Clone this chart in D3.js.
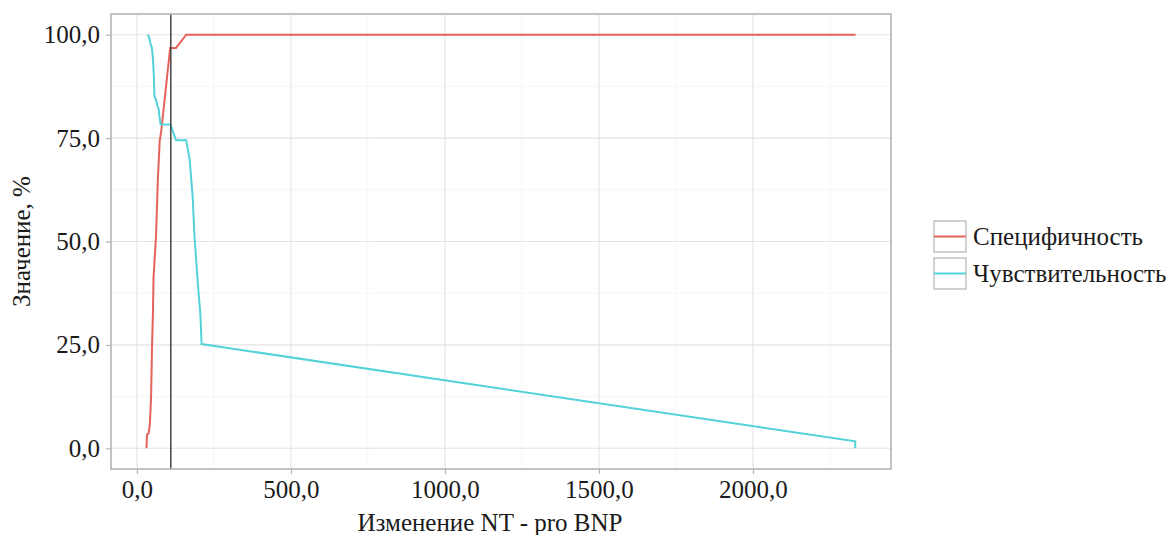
<!DOCTYPE html>
<html>
<head>
<meta charset="utf-8">
<script src="https://cdn.jsdelivr.net/npm/d3@7"></script>
<style>
  html, body { margin: 0; padding: 0; background: #fff; }
  svg { display: block; }
  text { font-family: "Liberation Serif", "DejaVu Serif", serif; fill: #1a1a1a; }
</style>
</head>
<body>
<svg id="chart" width="1168" height="535"></svg>
<script>
// Cut-off values of NT-proBNP change and the resulting specificity (%)
const specCutoff = [31, 33, 38, 42, 46, 49, 52, 54, 55, 62, 68, 74, 79, 108, 127, 160, 2333];
const specValue  = [0, 3.4, 3.6, 5.8, 12.3, 24.3, 32.3, 41.5, 42.5, 51.2, 64.8, 74.3, 76.7, 96.8, 96.8, 100, 100];

// Cut-off values and the resulting sensitivity (%)
const sensCutoff = [35.6, 41, 44, 49, 52, 55, 57, 62, 66, 71, 73, 77, 109, 115, 127, 160, 171, 174, 181, 187, 197, 206, 210, 2332, 2332];
const sensValue  = [100, 99, 97.8, 96.7, 94.2, 90, 85, 84.3, 83, 81.9, 80.3, 78.3, 78.3, 77, 74.5, 74.5, 70, 67.2, 60.8, 51.2, 40.7, 32.3, 25.2, 1.7, 0];

// Optimal cut-off marked with a vertical line
const optimalCutoff = 110;

const seriesNames = ["Специфичность", "Чувствительность"];
const seriesColors = ["#e6625a", "#52d2d9"];

const xTicks = [0, 500, 1000, 1500, 2000];
const xMinor = [250, 750, 1250, 1750, 2250];
const yTicks = [0, 25, 50, 75, 100];
const yMinor = [12.5, 37.5, 62.5, 87.5];

const xTitle = "Изменение NT - pro BNP";
const yTitle = "Значение, %";

// ---- layout ----
const panel = { left: 111, right: 891, top: 14, bottom: 469 };
const fontSize = 25;

const svg = d3.select("#chart");
svg.append("rect").attr("width", 1168).attr("height", 535).attr("fill", "#fff");

const allX = specCutoff.concat(sensCutoff);
const xMin = d3.min(allX), xMax = d3.max(allX);
const xPad = (xMax - xMin) * 0.05;
const x = d3.scaleLinear().domain([xMin - xPad, xMax + xPad]).range([panel.left, panel.right]);
const y = d3.scaleLinear().domain([-5, 105]).range([panel.bottom, panel.top]);

const locale = d3.formatLocale({ decimal: ",", thousands: "", grouping: [3], currency: ["", ""] });
const fmt = locale.format(".1f");

// grid
const grid = svg.append("g");
grid.selectAll(".xm").data(xMinor).join("line")
  .attr("x1", d => x(d)).attr("x2", d => x(d)).attr("y1", panel.top).attr("y2", panel.bottom)
  .attr("stroke", "#f2f2f2").attr("stroke-width", 0.8);
grid.selectAll(".ym").data(yMinor).join("line")
  .attr("y1", d => y(d)).attr("y2", d => y(d)).attr("x1", panel.left).attr("x2", panel.right)
  .attr("stroke", "#f2f2f2").attr("stroke-width", 0.8);
grid.selectAll(".xM").data(xTicks).join("line")
  .attr("x1", d => x(d)).attr("x2", d => x(d)).attr("y1", panel.top).attr("y2", panel.bottom)
  .attr("stroke", "#e3e3e3").attr("stroke-width", 1.1);
grid.selectAll(".yM").data(yTicks).join("line")
  .attr("y1", d => y(d)).attr("y2", d => y(d)).attr("x1", panel.left).attr("x2", panel.right)
  .attr("stroke", "#e3e3e3").attr("stroke-width", 1.1);

// curves
const line = d3.line().x(d => x(d[0])).y(d => y(d[1]));
const specData = specCutoff.map((c, i) => [c, specValue[i]]);
const sensData = sensCutoff.map((c, i) => [c, sensValue[i]]);

svg.append("path").datum(specData).attr("d", line)
  .attr("fill", "none").attr("stroke", seriesColors[0]).attr("stroke-width", 2);
svg.append("path").datum(sensData).attr("d", line)
  .attr("fill", "none").attr("stroke", seriesColors[1]).attr("stroke-width", 2);

// optimal cut-off
svg.append("line")
  .attr("x1", x(optimalCutoff)).attr("x2", x(optimalCutoff))
  .attr("y1", panel.top).attr("y2", panel.bottom)
  .attr("stroke", "#4d4d4d").attr("stroke-width", 1.6);

// panel border
svg.append("rect")
  .attr("x", panel.left).attr("y", panel.top)
  .attr("width", panel.right - panel.left).attr("height", panel.bottom - panel.top)
  .attr("fill", "none").attr("stroke", "#b5b5b5").attr("stroke-width", 1.6);

// axes
const xAxis = d3.axisBottom(x).tickValues(xTicks).tickFormat(fmt).tickSize(5).tickPadding(6);
const yAxis = d3.axisLeft(y).tickValues(yTicks).tickFormat(fmt).tickSize(5).tickPadding(6);

const gx = svg.append("g").attr("transform", `translate(0,${panel.bottom})`).call(xAxis);
const gy = svg.append("g").attr("transform", `translate(${panel.left},0)`).call(yAxis);
[gx, gy].forEach(g => {
  g.select(".domain").remove();
  g.selectAll(".tick line").attr("stroke", "#b5b5b5").attr("stroke-width", 1.2);
  g.selectAll(".tick text").attr("font-size", fontSize).attr("fill", "#1a1a1a")
    .style("font-family", "'Liberation Serif', serif");
});

// axis titles
svg.append("text").attr("x", (panel.left + panel.right) / 2 - 11).attr("y", 531)
  .attr("text-anchor", "middle").attr("font-size", fontSize).text(xTitle);
svg.append("text").attr("transform", `translate(30,${(panel.top + panel.bottom) / 2}) rotate(-90)`)
  .attr("text-anchor", "middle").attr("font-size", fontSize).text(yTitle);

// legend
const legend = svg.append("g").attr("transform", "translate(934,221)");
seriesNames.forEach((name, i) => {
  const g = legend.append("g").attr("transform", `translate(0,${i * 37})`);
  g.append("rect").attr("x", 0).attr("y", 0).attr("width", 32).attr("height", 31)
    .attr("fill", "#fff").attr("stroke", "#b5b5b5").attr("stroke-width", 1.2);
  g.append("line").attr("x1", 0).attr("x2", 32).attr("y1", 15.5).attr("y2", 15.5)
    .attr("stroke", seriesColors[i]).attr("stroke-width", 2);
  g.append("text").attr("x", 39).attr("y", 24).attr("font-size", fontSize).text(name);
});
</script>
</body>
</html>
